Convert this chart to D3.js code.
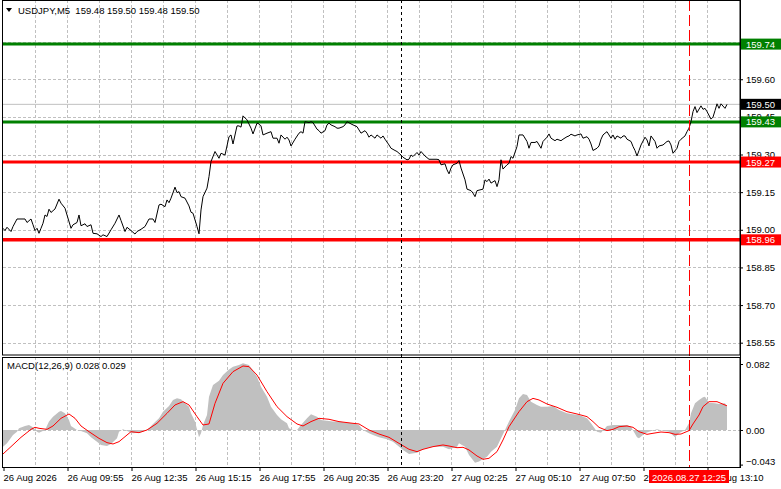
<!DOCTYPE html>
<html>
<head>
<meta charset="utf-8">
<script src="https://cdn.jsdelivr.net/npm/d3@7"></script>
<style>
body { margin: 0; background: #fff; }
svg { display: block; font-family: "Liberation Sans", Arial, sans-serif; }
</style>
</head>
<body>
<svg id="chart"></svg>
<script>
const width = 781;
const height = 489;

// header / symbol
const symbolName = 'USDJPY,M5';
const ohlc = [159.48, 159.50, 159.48, 159.50];
const lastPrice = 159.50;

// right price scale
const priceTicks = [159.60, 159.45, 159.30, 159.15, 159.00, 158.85, 158.70, 158.55];
const priceGrid = [159.75, 159.60, 159.45, 159.30, 159.15, 159.00, 158.85, 158.70, 158.55];

// horizontal levels
const buyLevels = [159.74, 159.43];
const sellLevels = [159.27, 158.96];

// time axis (bar index -> label)
const timeBars = [0, 32, 64, 96, 128, 160, 192, 224, 256, 288, 320, 352];
const timeLabels = ['26 Aug 2026', '26 Aug 09:55', '26 Aug 12:35', '26 Aug 15:15', '26 Aug 17:55',
    '26 Aug 20:35', '26 Aug 23:20', '27 Aug 02:25', '27 Aug 05:10', '27 Aug 07:50', '27 Aug 10:30', '27 Aug 13:10'];
const sessionBar = 199;
const cursorBar = 343;
const cursorLabel = '2026.08.27 12:25';

// close prices [bar, price]
const closes = [[0,159.006],[1,158.997],[2,159.010],[4,158.993],[5,159.013],[7,159.043],[11,159.043],[12,159.029],[14,159.043],[15,159.020],[16,158.997],[17,159.006],[18,158.986],[19,159.006],[20,159.026],[21,159.059],[22,159.053],[23,159.082],[24,159.069],[26,159.083],[28,159.122],[29,159.106],[31,159.086],[32,159.059],[34,159.006],[35,159.020],[37,159.029],[38,159.059],[39,159.016],[41,159.024],[42,159.013],[44,159.020],[45,158.986],[47,158.984],[49,158.973],[50,158.980],[52,158.973],[54,159.000],[56,159.026],[58,159.059],[59,159.037],[61,158.993],[62,159.010],[64,158.997],[66,158.983],[67,158.993],[69,159.002],[71,159.013],[73,159.043],[75,159.043],[76,159.029],[78,159.099],[79,159.102],[81,159.092],[82,159.119],[83,159.108],[84,159.126],[86,159.170],[87,159.148],[88,159.152],[89,159.132],[91,159.126],[93,159.095],[94,159.070],[95,159.066],[97,159.013],[98,158.984],[99,159.079],[100,159.132],[102,159.166],[103,159.212],[104,159.272],[106,159.312],[108,159.285],[109,159.305],[111,159.298],[113,159.371],[114,159.378],[115,159.342],[117,159.414],[118,159.414],[119,159.409],[120,159.454],[122,159.438],[124,159.405],[125,159.382],[127,159.425],[128,159.422],[129,159.414],[130,159.378],[132,159.385],[134,159.391],[135,159.365],[137,159.365],[138,159.345],[139,159.378],[141,159.361],[142,159.369],[143,159.358],[144,159.334],[146,159.361],[148,159.385],[149,159.391],[150,159.385],[151,159.431],[153,159.427],[154,159.431],[155,159.427],[157,159.401],[158,159.395],[159,159.385],[161,159.395],[162,159.418],[163,159.425],[164,159.418],[166,159.411],[167,159.405],[168,159.405],[170,159.411],[171,159.418],[172,159.431],[174,159.422],[175,159.418],[177,159.411],[178,159.398],[179,159.385],[181,159.395],[182,159.385],[183,159.369],[184,159.378],[186,159.365],[187,159.378],[189,159.365],[190,159.374],[191,159.361],[193,159.338],[194,159.325],[196,159.316],[197,159.312],[199,159.298],[200,159.289],[202,159.279],[203,159.281],[204,159.298],[205,159.292],[207,159.308],[208,159.298],[209,159.312],[211,159.294],[213,159.281],[215,159.281],[217,159.281],[218,159.279],[219,159.259],[221,159.263],[222,159.239],[223,159.223],[224,159.246],[225,159.259],[227,159.265],[228,159.276],[229,159.246],[231,159.199],[232,159.162],[234,159.156],[235,159.146],[236,159.132],[237,159.156],[239,159.160],[240,159.162],[241,159.199],[242,159.192],[243,159.202],[244,159.186],[246,159.196],[247,159.172],[248,159.199],[249,159.279],[250,159.242],[252,159.259],[253,159.265],[254,159.292],[255,159.285],[257,159.332],[258,159.378],[260,159.378],[262,159.352],[263,159.325],[264,159.348],[266,159.348],[267,159.352],[269,159.325],[270,159.352],[272,159.369],[273,159.382],[274,159.365],[276,159.355],[277,159.361],[279,159.355],[280,159.361],[282,159.371],[283,159.374],[284,159.381],[286,159.374],[287,159.378],[289,159.382],[290,159.365],[292,159.371],[293,159.361],[294,159.342],[295,159.316],[297,159.325],[298,159.334],[299,159.361],[300,159.378],[301,159.385],[302,159.391],[304,159.365],[305,159.378],[306,159.361],[307,159.374],[309,159.365],[310,159.374],[311,159.374],[312,159.361],[314,159.352],[315,159.332],[316,159.316],[317,159.294],[318,159.316],[319,159.338],[321,159.369],[322,159.358],[323,159.334],[324,159.374],[326,159.352],[327,159.325],[328,159.334],[330,159.338],[332,159.352],[333,159.354],[334,159.338],[335,159.305],[337,159.325],[338,159.352],[339,159.361],[341,159.374],[342,159.391],[343,159.405],[344,159.431],[345,159.471],[346,159.491],[347,159.467],[349,159.494],[350,159.480],[351,159.484],[352,159.471],[354,159.441],[355,159.449],[356,159.475],[357,159.502],[358,159.484],[359,159.502],[361,159.484],[362,159.500]];

// MACD(12,26,9)
const macdLabel = 'MACD(12,26,9)';
const macdLast = [0.028, 0.029];
const macdTicks = [0.082, 0.00, -0.043];
const macdHist = [[0,-0.0207],[2,-0.0166],[5,-0.0062],[7,-0.0021],[8,0.0021],[11,0.0050],[13,0.0062],[15,0.0033],[17,-0.0021],[18,-0.0033],[21,0],[23,0.0104],[25,0.0166],[28,0.0228],[29,0.0236],[31,0.0207],[33,0.0124],[34,0.0050],[37,0],[39,-0.0012],[42,-0.0041],[44,-0.0091],[47,-0.0145],[49,-0.0186],[52,-0.0199],[54,-0.0174],[57,-0.0104],[58,-0.0021],[60,0.0008],[63,-0.0021],[65,-0.0041],[68,-0.0033],[70,-0.0021],[73,0.0021],[75,0.0075],[78,0.0145],[80,0.0228],[83,0.0298],[85,0.0373],[87,0.0393],[89,0.0381],[91,0.0331],[93,0.0290],[94,0.0207],[96,0.0104],[98,-0.0091],[99,-0.0041],[100,0.0062],[102,0.0186],[103,0.0414],[105,0.0559],[108,0.0613],[110,0.0683],[113,0.0753],[115,0.0787],[118,0.0807],[120,0.0828],[123,0.0807],[125,0.0737],[127,0.0662],[129,0.0538],[132,0.0414],[134,0.0290],[137,0.0186],[139,0.0133],[142,0.0083],[143,0.0021],[145,0],[147,0],[149,0.0062],[152,0.0145],[154,0.0195],[157,0.0166],[159,0.0124],[162,0.0116],[165,0.0104],[168,0.0104],[172,0.0091],[175,0.0083],[178,0.0062],[180,0],[183,-0.0041],[185,-0.0062],[188,-0.0091],[192,-0.0116],[195,-0.0145],[197,-0.0186],[200,-0.0248],[203,-0.0298],[207,-0.0282],[210,-0.0240],[215,-0.0207],[220,-0.0207],[223,-0.0240],[227,-0.0207],[228,-0.0166],[231,-0.0207],[233,-0.0311],[236,-0.0406],[238,-0.0393],[242,-0.0331],[244,-0.0269],[247,-0.0207],[249,-0.0104],[251,0],[253,0.0104],[256,0.0248],[258,0.0393],[260,0.0447],[262,0.0435],[264,0.0352],[267,0.0311],[269,0.0290],[272,0.0290],[275,0.0298],[278,0.0248],[282,0.0207],[285,0.0195],[288,0.0186],[292,0.0145],[294,0.0083],[297,-0.0021],[299,-0.0033],[302,0.0050],[305,0.0062],[308,0.0062],[312,0.0062],[314,0.0041],[317,-0.0091],[318,-0.0104],[321,-0.0041],[323,-0.0021],[327,0.0008],[330,-0.0008],[333,-0.0021],[336,-0.0091],[338,-0.0041],[341,0],[343,0.0083],[344,0.0207],[346,0.0331],[348,0.0373],[350,0.0406],[351,0.0414],[353,0.0340],[356,0.0331],[358,0.0323],[361,0.0331],[362,0.0290]];
const macdSignal = [[0,-0.0298],[4,-0.0207],[9,-0.0091],[14,0.0008],[16,0.0033],[18,0.0021],[22,0.0008],[25,0.0050],[29,0.0145],[33,0.0199],[36,0.0145],[39,0.0050],[43,-0.0021],[48,-0.0104],[52,-0.0157],[55,-0.0174],[58,-0.0145],[61,-0.0083],[64,-0.0021],[68,-0.0033],[72,0],[77,0.0083],[82,0.0207],[86,0.0311],[90,0.0352],[93,0.0311],[97,0.0166],[100,0.0062],[103,0.0075],[106,0.0331],[110,0.0580],[115,0.0725],[120,0.0795],[123,0.0787],[127,0.0683],[132,0.0476],[137,0.0290],[142,0.0166],[147,0.0075],[150,0.0050],[154,0.0104],[158,0.0145],[163,0.0133],[168,0.0104],[175,0.0083],[178,0.0075],[183,0],[188,-0.0050],[193,-0.0091],[198,-0.0166],[203,-0.0240],[207,-0.0269],[210,-0.0240],[215,-0.0207],[220,-0.0186],[223,-0.0199],[227,-0.0220],[230,-0.0215],[233,-0.0248],[237,-0.0323],[240,-0.0364],[243,-0.0352],[247,-0.0269],[250,-0.0124],[253,0.0041],[258,0.0228],[262,0.0352],[265,0.0393],[268,0.0373],[272,0.0323],[277,0.0282],[282,0.0228],[287,0.0199],[292,0.0166],[295,0.0104],[298,0.0033],[302,-0.0008],[305,0.0008],[308,0.0041],[312,0.0050],[315,0.0033],[318,-0.0021],[322,-0.0054],[325,-0.0041],[329,-0.0025],[333,-0.0033],[336,-0.0054],[339,-0.0050],[343,-0.0008],[345,0.0075],[348,0.0186],[350,0.0290],[353,0.0352],[357,0.0352],[359,0.0331],[362,0.0300]];

const green = '#008000';
const red = '#ff0000';
const gridColor = '#c0c0c0';

// panel geometry
const axisX = 740;
const mainBottom = 355;
const macdTop = 357;
const macdBottom = 467;

const x = d3.scaleLinear().domain([0, 368]).range([3, 739]);
const yPrice = d3.scaleLinear().domain([158.55, 159.75]).range([342.7, 41.6]);
const yMacd = d3.scaleLinear().domain([-0.043, 0.082]).range([464.6, 364]);

const svg = d3.select('#chart').attr('width', width).attr('height', height);
svg.append('rect').attr('width', width).attr('height', height).attr('fill', '#fff');

const gridBars = d3.range(16, 353, 16);

// vertical grid in both panels
[[0, mainBottom], [macdTop, macdBottom]].forEach(([y0, y1]) => {
    svg.append('g').selectAll('line')
        .data(gridBars)
        .enter()
        .append('line')
        .attr('x1', d => Math.round(x(d)) + 0.5)
        .attr('x2', d => Math.round(x(d)) + 0.5)
        .attr('y1', y0)
        .attr('y2', y1)
        .attr('stroke', gridColor)
        .attr('stroke-dasharray', '3,2');
});

// horizontal grid
svg.append('g').selectAll('line')
    .data(priceGrid)
    .enter()
    .append('line')
    .attr('x1', 3)
    .attr('x2', axisX)
    .attr('y1', d => Math.round(yPrice(d)) + 0.5)
    .attr('y2', d => Math.round(yPrice(d)) + 0.5)
    .attr('stroke', gridColor)
    .attr('stroke-dasharray', '3,2');

svg.append('line')
    .attr('x1', 3).attr('x2', axisX)
    .attr('y1', Math.round(yMacd(0)) + 0.5).attr('y2', Math.round(yMacd(0)) + 0.5)
    .attr('stroke', gridColor)
    .attr('stroke-dasharray', '3,2');

// last price line
svg.append('line')
    .attr('x1', 3).attr('x2', axisX)
    .attr('y1', yPrice(lastPrice)).attr('y2', yPrice(lastPrice))
    .attr('stroke', '#c0c0c0');

// levels
svg.append('g').selectAll('line')
    .data(buyLevels)
    .enter()
    .append('line')
    .attr('x1', 3).attr('x2', axisX)
    .attr('y1', d => yPrice(d)).attr('y2', d => yPrice(d))
    .attr('stroke', green)
    .attr('stroke-width', 3);

svg.append('g').selectAll('line')
    .data(sellLevels)
    .enter()
    .append('line')
    .attr('x1', 3).attr('x2', axisX)
    .attr('y1', d => yPrice(d)).attr('y2', d => yPrice(d))
    .attr('stroke', red)
    .attr('stroke-width', (d, i) => i == 0 ? 3 : 3.6);

// price line
svg.append('path')
    .datum(closes)
    .attr('fill', 'none')
    .attr('stroke', '#000')
    .attr('stroke-width', 1)
    .attr('d', d3.line().x(d => x(d[0])).y(d => yPrice(d[1])));

// MACD histogram
svg.append('path')
    .datum(macdHist)
    .attr('fill', '#c0c0c0')
    .attr('d', d3.area().x(d => x(d[0])).y0(yMacd(0)).y1(d => yMacd(d[1])));

// MACD signal
svg.append('path')
    .datum(macdSignal)
    .attr('fill', 'none')
    .attr('stroke', red)
    .attr('stroke-width', 1)
    .attr('d', d3.line().x(d => x(d[0])).y(d => yMacd(d[1])));

// session separator and cursor line
svg.append('line')
    .attr('x1', Math.round(x(sessionBar)) + 0.5).attr('x2', Math.round(x(sessionBar)) + 0.5)
    .attr('y1', 0).attr('y2', macdBottom)
    .attr('stroke', '#000')
    .attr('stroke-dasharray', '3,3');

svg.append('line')
    .attr('x1', Math.round(x(cursorBar)) + 0.5).attr('x2', Math.round(x(cursorBar)) + 0.5)
    .attr('y1', 0).attr('y2', macdBottom)
    .attr('stroke', red)
    .attr('stroke-dasharray', '11,4');

// panel frames
svg.append('rect')
    .attr('x', 2.5).attr('y', 0.5)
    .attr('width', axisX - 2.5).attr('height', mainBottom - 0.5)
    .attr('fill', 'none').attr('stroke', '#000');
svg.append('rect')
    .attr('x', 2.5).attr('y', macdTop + 0.5)
    .attr('width', axisX - 2.5).attr('height', macdBottom - macdTop)
    .attr('fill', 'none').attr('stroke', '#000');

// price axis
const priceAxis = svg.append('g')
    .attr('transform', `translate(${axisX},0)`)
    .call(d3.axisRight(yPrice).tickValues(priceTicks).tickFormat(d3.format('.2f')).tickSize(3).tickPadding(3));
priceAxis.select('.domain').remove();
priceAxis.selectAll('text').attr('font-size', 9.5).attr('fill', '#000').attr('font-family', '"Liberation Sans", Arial, sans-serif');

const macdAxis = svg.append('g')
    .attr('transform', `translate(${axisX},0)`)
    .call(d3.axisRight(yMacd).tickValues(macdTicks).tickFormat(d => d == 0 ? '0.00' : d3.format('.3f')(d)).tickSize(3).tickPadding(3));
macdAxis.select('.domain').remove();
macdAxis.selectAll('text').attr('font-size', 9.5).attr('fill', '#000').attr('font-family', '"Liberation Sans", Arial, sans-serif')
    .attr('dy', d => d < 0 ? '-0.05em' : '0.32em');

// time axis
const timeAxis = svg.append('g')
    .attr('transform', `translate(0,${macdBottom})`)
    .call(d3.axisBottom(x).tickValues(timeBars).tickFormat((d, i) => timeLabels[i]).tickSize(4));
timeAxis.select('.domain').remove();
timeAxis.selectAll('.tick line').attr('transform', 'translate(0.5,0)');
timeAxis.selectAll('text')
    .attr('text-anchor', 'start')
    .attr('x', 0)
    .attr('y', 14)
    .attr('dy', 0)
    .attr('font-size', 9.5)
    .attr('fill', '#000')
    .attr('font-family', '"Liberation Sans", Arial, sans-serif');

// price tags on the axis
function priceTag(value, fill) {
    const cy = yPrice(value);
    svg.append('rect')
        .attr('x', axisX + 1).attr('y', cy - 5.5)
        .attr('width', width - axisX - 1).attr('height', 11)
        .attr('fill', fill);
    svg.append('text')
        .attr('x', axisX + 6).attr('y', cy + 3.5)
        .attr('font-size', 9.5)
        .attr('fill', '#fff')
        .text(value.toFixed(2));
}
buyLevels.forEach(v => priceTag(v, green));
sellLevels.forEach(v => priceTag(v, red));
priceTag(lastPrice, '#000');

// right axis line
svg.append('line')
    .attr('x1', axisX + 0.5).attr('x2', axisX + 0.5)
    .attr('y1', 0).attr('y2', macdBottom + 1)
    .attr('stroke', '#000');

// cursor time tag
const cx = x(cursorBar);
svg.append('rect')
    .attr('x', cx - 40).attr('y', 470)
    .attr('width', 80).attr('height', 13)
    .attr('fill', red);
svg.append('text')
    .attr('x', cx).attr('y', 480.5)
    .attr('text-anchor', 'middle')
    .attr('font-size', 9.5)
    .attr('fill', '#fff')
    .text(cursorLabel);

// header
svg.append('path')
    .attr('d', 'M6,8 L12,8 L9,12 Z')
    .attr('fill', '#000');
svg.append('text')
    .attr('x', 18).attr('y', 14)
    .attr('font-size', 9.5)
    .attr('fill', '#000')
    .attr('xml:space', 'preserve')
    .text(symbolName + '  ' + ohlc.map(d => d.toFixed(2)).join(' '));

svg.append('text')
    .attr('x', 7).attr('y', 369)
    .attr('font-size', 9.5)
    .attr('fill', '#000')
    .text(macdLabel + ' ' + macdLast.map(d => d.toFixed(3)).join(' '));
</script>
</body>
</html>
